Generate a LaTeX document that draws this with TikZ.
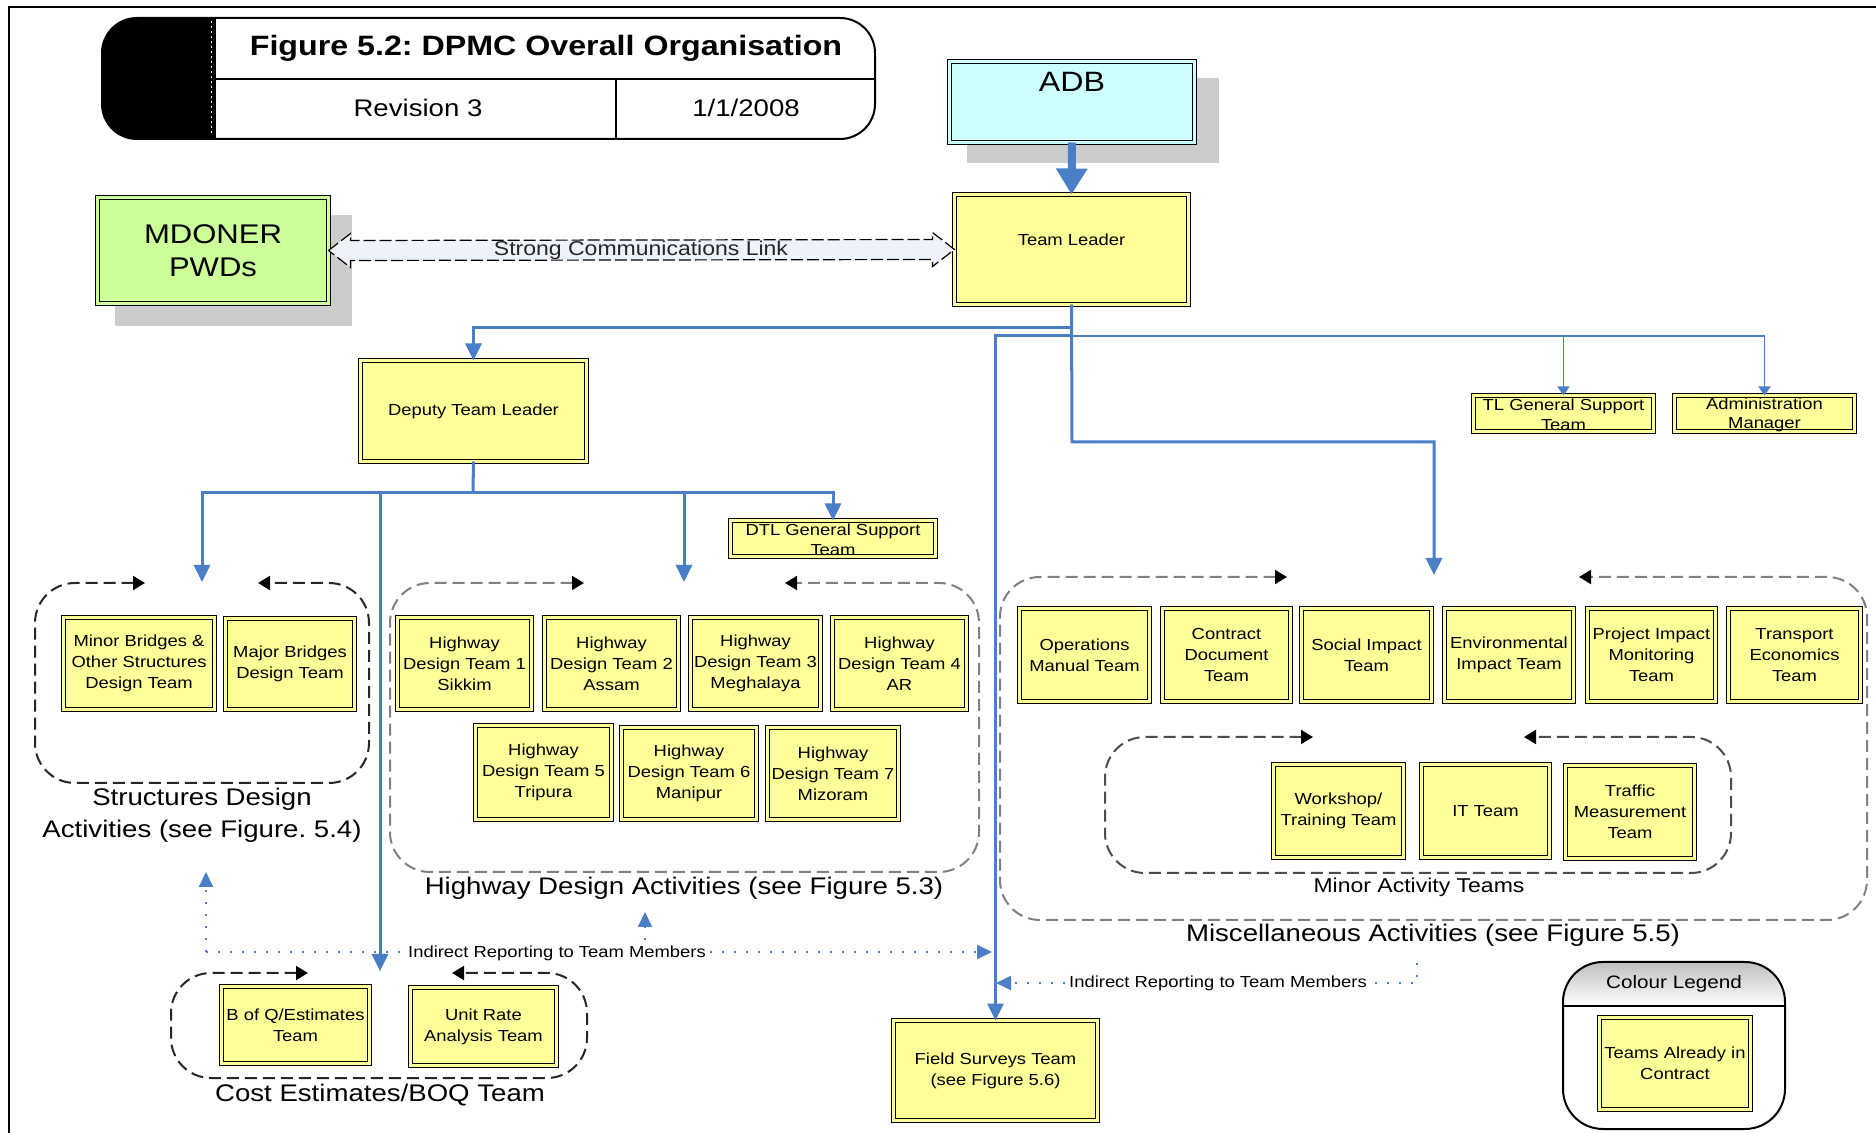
\documentclass[tikz,border=0pt]{standalone}
\usepackage{fontspec}
\setmainfont{Liberation Sans}[FakeStretch=1.15]
\usetikzlibrary{arrows.meta,fit,calc}
\definecolor{boxyellow}{HTML}{FFFF99}
\definecolor{boxgreen}{HTML}{CCFF99}
\definecolor{boxcyan}{HTML}{CCFFFF}
\definecolor{linkblue}{HTML}{4A7EC6}
\definecolor{shadowgray}{HTML}{CCCCCC}
\definecolor{linkfill}{HTML}{EEF2FA}
\newcommand{\boxfont}{\fontsize{8}{10.5}\selectfont}
\newcommand{\smallboxfont}{\fontsize{8}{9.8}\selectfont}
\newcommand{\grpfont}{\fontsize{12}{16}\selectfont}
\newcommand{\bigfont}{\fontsize{13.5}{16.5}\selectfont}
\newcommand{\tbox}[6]{\node[teambox, fit={(#2+2.5,#3+2.5) (#4-2.5,#5-2.5)},
  label={[boxlabel]center:{#6}}] (#1) {};}
\newcommand{\smtbox}[6]{\node[teambox, fit={(#2+2.5,#3+2.5) (#4-2.5,#5-2.5)},
  label={[boxlabel, font=\smallboxfont, yshift=-0.6pt]center:{#6}}] (#1) {};}
\newcommand{\grpshape}[7]{\draw[#1] (#6,#3) -- (#2,#3) -- (#2,#5) -- (#4,#5) -- (#4,#3) -- (#7,#3);}
\frenchspacing
\begin{document}
\begin{tikzpicture}[x=0.5pt,y=-0.5pt,
  teambox/.style={draw=black, line width=0.6pt, double=boxyellow, double distance=1.4pt,
    fill=boxyellow, inner sep=0pt, outer sep=0pt},
  boxlabel/.style={font=\boxfont, align=center, inner sep=0pt},
  bigbox/.style={draw=black, line width=0.6pt, double=#1, double distance=1.4pt,
    fill=#1, inner sep=0pt, outer sep=0pt},
  conn/.style={draw=linkblue, line width=1.5pt, -{Triangle[width=8pt,length=8.5pt]}},
  connthin/.style={draw=linkblue, line width=0.8pt, -{Triangle[width=6pt,length=4.5pt]}},
  dotconn/.style={draw=linkblue, line width=1pt, dash pattern=on 1pt off 5pt,
    -{Triangle[width=7pt,length=7.5pt]}},
  grp/.style={line width=1pt, dash pattern=on 6pt off 3pt, rounded corners=20pt,
    {Triangle[width=7pt,length=6pt,color=black]}-{Triangle[width=7pt,length=6pt,color=black]}},
  grplabel/.style={font=\grpfont, align=center, inner sep=0pt}
]
\path[use as bounding box, fill=white] (0,0) rectangle (1876,1133);
% outer frame
\draw[line width=1.2pt] (9,1140) -- (9,7) -- (1890,7);

% title block
\begin{scope}
\clip[rounded corners=17.5pt] (102,18) rectangle (875,139);
\fill[black] (102,18) rectangle (216,139);
\end{scope}
\draw[line width=1pt, rounded corners=17.5pt] (102,18) rectangle (875,139);
\draw[white, line width=0.5pt, dash pattern=on 1pt off 1.5pt] (211,21) -- (211,136);
\draw[line width=0.8pt] (216,79) -- (875,79);
\draw[line width=0.8pt] (616,79) -- (616,139);
\node[font=\bfseries\fontsize{14}{16}\selectfont] (ttl) at (546,48) {Figure 5.2: DPMC Overall Organisation};
\node[font=\fontsize{12}{14}\selectfont] (rev) at (418,108) {Revision 3};
\node[font=\fontsize{12}{14}\selectfont] (date) at (746,108) {1/1/2008};

% shadows
\fill[shadowgray] (115,215) rectangle (352,326);
\fill[shadowgray] (967,78) rectangle (1219,163);

% top nodes
\node[bigbox=boxgreen, fit={(97.5,197.5) (328.5,303.5)},
  label={[font=\bigfont, align=center, inner sep=0pt]center:{MDONER\\PWDs}}] (md) {};
\node[bigbox=boxcyan, fit={(949.5,61.5) (1194.5,142.5)},
  label={[font=\fontsize{14}{16}\selectfont, yshift=10pt]center:ADB}] (adb) {};
\node[teambox, fit={(954.5,194.5) (1188.5,304.5)},
  label={[font=\boxfont, yshift=5pt]center:Team Leader}] (tl) {};

% strong communications link
\draw[line width=0.6pt, fill=linkfill, dash pattern=on 6pt off 2pt]
  (md.east) -- ++(22,-17) -- ++(0,7) -- ($(tl.west)+(-22,-10)$) -- ++(0,-7) -- (tl.west)
  -- ++(-22,17) -- ++(0,-7) -- ($(md.east)+(22,10)$) -- ++(0,7) -- cycle;
\node[font=\fontsize{10}{12}\selectfont, text=black!85] (lnk) at (641,250) {Strong Communications Link};

\tbox{dep}{358}{358}{589}{464}{Deputy Team Leader}
\smtbox{tlgs}{1471}{393}{1656}{434}{TL General Support\\Team}
\smtbox{adm}{1672}{393}{1857}{434}{Administration\\Manager}
\smtbox{dtl}{728}{518}{938}{559}{DTL General Support\\Team}

% structures
\grpshape{grp, draw=black!85}{35}{583}{369}{783}{145}{258}
\tbox{minb}{61}{615}{217}{712}{Minor Bridges \&\\Other Structures\\Design Team}
\tbox{majb}{223}{616}{357}{712}{Major Bridges\\Design Team}
\node[grplabel] (lstr) at (202,815) {Structures Design\\Activities (see Figure. 5.4)};

% highway
\grpshape{grp, draw=black!50}{390}{583}{979}{872}{584}{785}
\tbox{h1}{395}{615}{534}{712}{Highway\\Design Team 1\\Sikkim}
\tbox{h2}{542}{615}{681}{712}{Highway\\Design Team 2\\Assam}
\tbox{h3}{688}{615}{823}{712}{Highway\\Design Team 3\\Meghalaya}
\tbox{h4}{830}{615}{969}{712}{Highway\\Design Team 4\\AR}
\tbox{h5}{473}{723}{614}{822}{Highway\\Design Team 5\\Tripura}
\tbox{h6}{619}{725}{759}{822}{Highway\\Design Team 6\\Manipur}
\tbox{h7}{765}{725}{901}{822}{Highway\\Design Team 7\\Mizoram}
\node[grplabel] (lhwy) at (684,888) {Highway Design Activities (see Figure 5.3)};

% miscellaneous
\grpshape{grp, draw=black!50}{1000}{577}{1867}{920}{1287}{1579}
\tbox{om}{1017}{606}{1152}{704}{Operations\\Manual Team}
\tbox{cd}{1160}{606}{1293}{704}{Contract\\Document\\Team}
\tbox{si}{1299}{606}{1434}{704}{Social Impact\\Team}
\tbox{ei}{1442}{606}{1576}{704}{Environmental\\Impact Team}
\tbox{pim}{1585}{606}{1718}{704}{Project Impact\\Monitoring\\Team}
\tbox{te}{1726}{606}{1863}{704}{Transport\\Economics\\Team}
\grpshape{grp, draw=black!70}{1105}{737}{1731}{873}{1313}{1524}
\tbox{ws}{1271}{762}{1406}{860}{Workshop/\\Training Team}
\tbox{it}{1419}{762}{1552}{860}{IT Team}
\tbox{tm}{1563}{763}{1697}{861}{Traffic\\Measurement\\Team}
\node[grplabel, font=\fontsize{10}{12}\selectfont] (lmin) at (1419,887) {Minor Activity Teams};
\node[grplabel] (lmis) at (1433,935) {Miscellaneous Activities (see Figure 5.5)};

% cost estimates
\grpshape{grp, draw=black!85}{171}{973}{587}{1078}{308}{452}
\tbox{boq}{219}{984}{372}{1066}{B of Q/Estimates\\Team}
\tbox{ura}{408}{985}{559}{1068}{Unit Rate\\Analysis Team}
\node[grplabel] (lcst) at (380,1095) {Cost Estimates/BOQ Team};

% field surveys
\tbox{fs}{891}{1018}{1100}{1123}{Field Surveys Team\\(see Figure 5.6)}

% colour legend
\begin{scope}
\clip[rounded corners=20pt] (1563,962) rectangle (1785,1129);
\shade[top color=black!25, bottom color=white] (1563,962) rectangle (1785,1006);
\end{scope}
\draw[line width=1pt, rounded corners=20pt] (1563,962) rectangle (1785,1129);
\draw[line width=0.8pt] (1563,1006) -- (1785,1006);
\node[font=\fontsize{9}{11}\selectfont] (leg) at (1674,984) {Colour Legend};
\tbox{tac}{1597}{1015}{1753}{1112}{Teams Already in\\Contract}

% connector junctions
\coordinate (jA) at (1072,328);
\coordinate (jB) at (1072,336);
\coordinate (jC) at (1072,442);
\coordinate (jD) at (473,493);
\coordinate (strTop) at (202,582);
\coordinate (hwyTop) at (684,582);
\coordinate (misTop) at (1434,575);
\coordinate (cstTop) at (380,971);

% main connectors
\draw[draw=linkblue, line width=4pt, -{Triangle[width=15pt,length=13pt]}] (adb.south) -- (tl.north);
\draw[conn] (tl.south) -- (jC) -| (misTop);
\draw[conn] (jA) -| (dep.north);
\draw[conn] (jB) -| (fs.north);
\draw[connthin] (jB) -| (tlgs.north);
\draw[connthin] (jB) -| (adm.north);
\draw[conn, -] (dep.south) -- (jD);
\draw[conn] (jD) -| (strTop);
\draw[conn] (jD) -| (cstTop);
\draw[conn] (jD) -| (hwyTop);
\draw[conn] (jD) -| (dtl.north);

% indirect reporting
\coordinate (dA) at (206,952);
\coordinate (dB) at (645,952);
\coordinate (strPt) at (206,872);
\coordinate (hwyPt) at (645,912);
\coordinate (fsPt1) at (992,952);
\coordinate (dC) at (1417,963);
\coordinate (fsPt2) at (996,983);
\draw[dotconn] (dA) -- (strPt);
\draw[dotconn] (dA) -- (fsPt1);
\draw[dotconn] (dB) -- (hwyPt);
\draw[dotconn] (dC) |- (fsPt2);
\node[fill=white, inner sep=1pt, font=\boxfont] (ir1) at (557,953) {Indirect Reporting to Team Members};
\node[fill=white, inner sep=1pt, font=\boxfont] (ir2) at (1218,983) {Indirect Reporting to Team Members};
\end{tikzpicture}
\end{document}
